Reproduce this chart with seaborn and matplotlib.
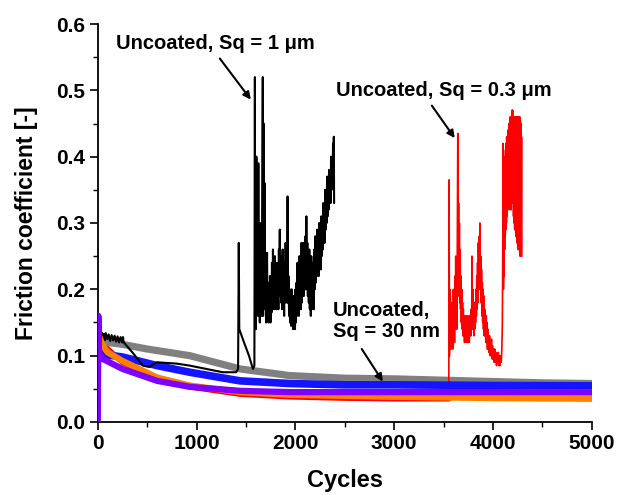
import matplotlib
matplotlib.use("Agg")
import matplotlib.pyplot as plt
import seaborn as sns
import pandas as pd

# ---------------- data ----------------
gray_cycles = [0, 20, 100, 250, 500, 930, 1440, 1940, 2500, 3000, 3500, 4000, 4500, 5000]
gray_mu = [0.135, 0.125, 0.12, 0.117, 0.11, 0.1, 0.08, 0.07, 0.066, 0.065, 0.063, 0.061, 0.059, 0.058]

blue_cycles = [0, 8, 50, 250, 600, 930, 1440, 1940, 2500, 3000, 4000, 5000]
blue_mu = [0.155, 0.11, 0.102, 0.098, 0.085, 0.075, 0.062, 0.058, 0.056, 0.056, 0.055, 0.0545]

purple_cycles = [0, 5, 12, 50, 250, 600, 930, 1440, 1940, 3000, 4000, 5000]
purple_mu = [0.0, 0.16, 0.105, 0.095, 0.08, 0.062, 0.053, 0.047, 0.045, 0.045, 0.045, 0.0445]

orange_cycles = [0, 5, 12, 50, 100, 250, 600, 930, 1440, 1940, 3000, 4000, 5000]
orange_mu = [0.01, 0.15, 0.13, 0.115, 0.105, 0.092, 0.067, 0.055, 0.045, 0.041, 0.038, 0.036, 0.035]

red_low_cycles = [0, 10, 50, 100, 250, 600, 930, 1440, 1940, 2500, 3000, 3500, 3553]
red_low_mu = [0.14, 0.13, 0.12, 0.11, 0.09, 0.066, 0.053, 0.042, 0.038, 0.036, 0.035, 0.035, 0.035]

red_cycles = [
    3545, 3553, 3556, 3559, 3562, 3565, 3568, 3571, 3575, 3579, 3583, 3587, 3591, 3595,
    3599, 3603, 3607, 3611, 3615, 3619, 3623, 3627, 3631, 3635, 3640, 3644, 3648, 3652,
    3656, 3660, 3664, 3668, 3672, 3676, 3680, 3684, 3688, 3692, 3696, 3700, 3704, 3708,
    3712, 3716, 3720, 3724, 3728, 3732, 3736, 3740, 3744, 3748, 3752, 3756, 3760, 3764,
    3768, 3772, 3776, 3780, 3784, 3788, 3792, 3796, 3800, 3804, 3808, 3812, 3816, 3820,
    3824, 3828, 3832, 3836, 3840, 3844, 3848, 3852, 3856, 3860, 3864, 3868, 3872, 3876,
    3880, 3884, 3888, 3892, 3896, 3900, 3904, 3908, 3912, 3916, 3920, 3924, 3928, 3932,
    3936, 3940, 3944, 3948, 3952, 3956, 3960, 3965, 3970, 3975, 3980, 3985, 3990, 3995,
    4000, 4006, 4012, 4018, 4024, 4030, 4036, 4042, 4048, 4054, 4060, 4066, 4072, 4078,
    4084, 4090, 4095, 4099, 4103, 4106, 4109, 4112, 4115, 4118, 4121, 4124, 4127, 4130,
    4133, 4136, 4139, 4142, 4145, 4148, 4151, 4154, 4157, 4160, 4163, 4166, 4169, 4172,
    4175, 4178, 4181, 4184, 4187, 4190, 4193, 4196, 4199, 4202, 4205, 4208, 4211, 4214,
    4217, 4220, 4223, 4226, 4229, 4232, 4235, 4238, 4241, 4244, 4247, 4250, 4253, 4256,
    4259, 4262, 4265, 4268, 4271, 4274, 4277, 4280, 4283, 4286, 4289, 4291]
red_mu = [
    0.035, 0.06, 0.365, 0.10, 0.20, 0.11, 0.19, 0.12, 0.17, 0.11, 0.18, 0.12, 0.16, 0.11,
    0.20, 0.13, 0.18, 0.12, 0.22, 0.14, 0.25, 0.15, 0.21, 0.14, 0.30, 0.435, 0.19, 0.33,
    0.20, 0.30, 0.18, 0.26, 0.17, 0.22, 0.15, 0.20, 0.14, 0.18, 0.13, 0.17, 0.13, 0.16,
    0.12, 0.16, 0.13, 0.15, 0.12, 0.16, 0.13, 0.15, 0.12, 0.16, 0.13, 0.15, 0.12, 0.16,
    0.13, 0.15, 0.13, 0.17, 0.14, 0.25, 0.14, 0.20, 0.15, 0.17, 0.13, 0.18, 0.14, 0.17,
    0.15, 0.20, 0.16, 0.22, 0.17, 0.24, 0.18, 0.27, 0.20, 0.28, 0.21, 0.30, 0.20, 0.25,
    0.18, 0.23, 0.16, 0.21, 0.15, 0.20, 0.14, 0.19, 0.13, 0.17, 0.13, 0.16, 0.12, 0.16,
    0.12, 0.15, 0.11, 0.14, 0.11, 0.13, 0.105, 0.13, 0.10, 0.12, 0.10, 0.125, 0.095, 0.115,
    0.095, 0.11, 0.09, 0.11, 0.09, 0.105, 0.085, 0.10, 0.09, 0.105, 0.085, 0.10, 0.085, 0.10,
    0.09, 0.11, 0.15, 0.25, 0.42, 0.20, 0.38, 0.22, 0.40, 0.26, 0.38, 0.28, 0.41, 0.29,
    0.42, 0.30, 0.43, 0.31, 0.42, 0.32, 0.44, 0.33, 0.43, 0.33, 0.45, 0.32, 0.44, 0.33,
    0.46, 0.33, 0.45, 0.32, 0.46, 0.34, 0.47, 0.35, 0.47, 0.33, 0.46, 0.31, 0.46, 0.30,
    0.45, 0.29, 0.46, 0.29, 0.45, 0.28, 0.46, 0.28, 0.45, 0.27, 0.46, 0.27, 0.45, 0.26,
    0.46, 0.26, 0.45, 0.26, 0.46, 0.25, 0.455, 0.26, 0.45, 0.25, 0.43, 0.25]

black_cycles = [
    0, 10, 20, 30, 40, 50, 60, 70, 80, 95, 110, 125, 140, 155, 170, 185, 200, 215, 230, 245,
    255, 262, 350, 455, 520, 600, 800, 930, 1100, 1265, 1400, 1420, 1427, 1432, 1480, 1530,
    1570, 1585,
    1590, 1593, 1597, 1600, 1605, 1610, 1615, 1620, 1625, 1630, 1635, 1640, 1645, 1650,
    1655, 1660, 1665, 1670, 1673, 1678, 1683, 1688, 1693, 1698, 1703, 1708, 1713, 1718,
    1723, 1728, 1733, 1738, 1743, 1748, 1753, 1758, 1763, 1768, 1773, 1778, 1783, 1788,
    1793, 1798, 1803, 1808, 1813, 1818, 1823, 1828, 1833, 1838, 1842, 1846, 1851, 1856,
    1861, 1866, 1871, 1876, 1881, 1886, 1891, 1896, 1901, 1906, 1911, 1916, 1921, 1926,
    1931, 1936, 1941, 1946, 1951, 1956, 1961, 1966, 1971, 1976, 1981, 1986, 1991, 1996,
    2001, 2006, 2011, 2016, 2021, 2026, 2031, 2036, 2041, 2046, 2051, 2056, 2061, 2066,
    2071, 2076, 2081, 2086, 2091, 2096, 2101, 2106, 2111, 2116, 2121, 2126, 2131, 2136,
    2141, 2146, 2151, 2156, 2161, 2166, 2171, 2176, 2181, 2186, 2191, 2196, 2201, 2206,
    2211, 2216, 2221, 2226, 2231, 2236, 2241, 2246, 2251, 2256, 2261, 2266, 2271, 2276,
    2281, 2286, 2291, 2296, 2301, 2306, 2311, 2316, 2321, 2326, 2331, 2336, 2341, 2346,
    2351, 2356, 2361, 2366, 2371, 2376, 2381, 2386, 2389, 2392]
black_mu = [
    0.14, 0.125, 0.136, 0.124, 0.135, 0.126, 0.133, 0.123, 0.134, 0.125, 0.132, 0.122, 0.131,
    0.123, 0.13, 0.121, 0.129, 0.12, 0.128, 0.12, 0.128, 0.12, 0.105, 0.085, 0.083, 0.09,
    0.088, 0.085, 0.08, 0.075, 0.075, 0.08, 0.27, 0.14, 0.12, 0.10, 0.08, 0.085,
    0.52, 0.15, 0.30, 0.14, 0.40, 0.17, 0.25, 0.16, 0.39, 0.18, 0.22, 0.15, 0.30, 0.17,
    0.26, 0.16, 0.33, 0.52, 0.16, 0.45, 0.18, 0.36, 0.17, 0.22, 0.15, 0.20, 0.255, 0.16,
    0.21, 0.15, 0.19, 0.16, 0.22, 0.15, 0.20, 0.165, 0.24, 0.17, 0.26, 0.18, 0.22, 0.17,
    0.25, 0.18, 0.23, 0.17, 0.24, 0.19, 0.22, 0.17, 0.26, 0.20, 0.29, 0.19, 0.25, 0.18,
    0.24, 0.17, 0.26, 0.18, 0.22, 0.16, 0.24, 0.18, 0.27, 0.19, 0.23, 0.18, 0.34, 0.18,
    0.22, 0.16, 0.20, 0.15, 0.19, 0.145, 0.20, 0.15, 0.18, 0.14, 0.19, 0.15, 0.17, 0.14,
    0.20, 0.15, 0.21, 0.16, 0.24, 0.17, 0.22, 0.16, 0.25, 0.18, 0.23, 0.17, 0.27, 0.18,
    0.24, 0.19, 0.27, 0.19, 0.25, 0.20, 0.28, 0.20, 0.31, 0.21, 0.27, 0.19, 0.24, 0.18,
    0.26, 0.17, 0.23, 0.16, 0.25, 0.17, 0.24, 0.18, 0.22, 0.17, 0.26, 0.20, 0.28, 0.21,
    0.26, 0.22, 0.29, 0.23, 0.27, 0.22, 0.30, 0.24, 0.28, 0.23, 0.31, 0.25, 0.29, 0.26,
    0.33, 0.27, 0.32, 0.27, 0.35, 0.29, 0.34, 0.30, 0.37, 0.31, 0.36, 0.32, 0.38, 0.33,
    0.37, 0.33, 0.40, 0.35, 0.39, 0.36, 0.42, 0.38, 0.43, 0.33]

x_ticks = [0, 1000, 2000, 3000, 4000, 5000]
y_ticks = [0.0, 0.1, 0.2, 0.3, 0.4, 0.5, 0.6]
y_tick_labels = ["0.0", "0.1", "0.2", "0.3", "0.4", "0.5", "0.6"]

# ---------------- style ----------------
sns.set_theme(style="ticks")
plt.rcParams['font.family'] = ['Liberation Sans', 'DejaVu Sans']
plt.rcParams['font.weight'] = 'bold'
plt.rcParams['text.color'] = 'black'
plt.rcParams['axes.labelcolor'] = 'black'
plt.rcParams['xtick.color'] = 'black'
plt.rcParams['ytick.color'] = 'black'

fig = plt.figure(figsize=(6.19, 4.95), dpi=100)
ax = fig.add_axes([0.158, 0.1475, 0.798, 0.804])


def draw(xs, ys, color, lw, z):
    df = pd.DataFrame({"Cycles": xs, "mu": ys})
    sns.lineplot(data=df, x="Cycles", y="mu", color=color, lw=lw, ax=ax,
                 sort=False, estimator=None, zorder=z)


draw(red_low_cycles, red_low_mu, "#ff0000", 4.0, 1)
draw(gray_cycles, gray_mu, "#808080", 5.2, 2)
draw(red_cycles, red_mu, "#ff0000", 1.2, 3)
draw(blue_cycles, blue_mu, "#1414ff", 5.5, 4)
draw(black_cycles, black_mu, "#000000", 1.5, 5)
draw(orange_cycles, orange_mu, "#ff8000", 4.5, 6)
draw(purple_cycles, purple_mu, "#8000ff", 4.5, 7)

ax.set_xlim(0, 5000)
ax.set_ylim(0, 0.6)
ax.set_xticks(x_ticks)
ax.set_yticks(y_ticks)
ax.set_yticklabels(y_tick_labels)
ax.set_xticks([500, 1500, 2500, 3500, 4500], minor=True)
ax.set_yticks([0.05, 0.15, 0.25, 0.35, 0.45, 0.55], minor=True)
ax.tick_params(axis='both', which='major', direction='out', length=6, width=1.2,
               labelsize=15, color='black', labelcolor='black', pad=3)
ax.tick_params(axis='both', which='minor', direction='out', length=3.5, width=1.0,
               color='black')
for lab in ax.get_xticklabels() + ax.get_yticklabels():
    lab.set_fontweight('bold')

sns.despine(ax=ax)
for s in ['left', 'bottom']:
    ax.spines[s].set_linewidth(1.3)
    ax.spines[s].set_color('black')

ax.set_xlabel("Cycles", fontsize=17, fontweight='bold', labelpad=11)
ax.set_ylabel("Friction coefficient [-]", fontsize=16.5, fontweight='bold', labelpad=13)

arrow = dict(arrowstyle='-|>', color='black', lw=1.5, mutation_scale=11, shrinkA=0, shrinkB=0)
ax.text(182, 0.57, "Uncoated, Sq = 1 μm", fontsize=14.5, fontweight='bold',
        ha='left', va='center')
ax.annotate("", xy=(1549, 0.486), xytext=(1235, 0.548), arrowprops=arrow)

ax.text(2409, 0.50, "Uncoated, Sq = 0.3 μm", fontsize=14.5, fontweight='bold',
        ha='left', va='center')
ax.annotate("", xy=(3613, 0.428), xytext=(3381, 0.477), arrowprops=arrow)

ax.text(2379, 0.152, "Uncoated,\nSq = 30 nm", fontsize=14.5, fontweight='bold',
        ha='left', va='center', linespacing=1.15)
ax.annotate("", xy=(2885, 0.061), xytext=(2672, 0.11), arrowprops=arrow)

fig.savefig("out.png", dpi=100)
